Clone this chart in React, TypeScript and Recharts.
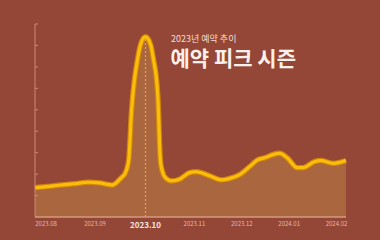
import React from 'react';
import { ComposedChart, Area, Line, XAxis, YAxis, ReferenceLine } from 'recharts';

// x = days since 2023-07-25, value = booking index
const days = [0, 7.6, 15, 25, 34, 41, 46, 49, 52.2, 54.7, 57.2, 58.6, 59.5, 60.2, 60.8, 61.7, 63, 64.9, 66.8, 70, 73.3, 75.1, 77, 77.9, 78.4, 78.9, 79.5, 80.8, 82.7, 86.5, 91.6, 98, 102, 111, 118, 123, 130, 136, 141, 146, 152, 155, 160, 166, 170, 177, 181, 189, 197];
const values = [13.7, 14.2, 14.8, 15.5, 16.2, 15.9, 15.2, 14.9, 16.4, 18.3, 20.5, 23.5, 27.5, 35.9, 45.2, 54.6, 63.9, 73.2, 80.2, 84, 80.2, 73.2, 63.9, 54.6, 45.2, 33.6, 25.7, 21, 18.2, 16.8, 17.6, 20.7, 21.1, 19.1, 17.3, 17.9, 19.9, 23.5, 26.6, 27.7, 29.4, 29.7, 27.4, 23, 23, 25.8, 26.3, 25, 26.3];
const tickDays = [7, 38, 70, 101, 131, 161, 191];
const tickLabels = ['2023.08', '2023.09', '2023.10', '2023.11', '2023.12', '2024.01', '2024.02'];
const peakDay = 70;
const peakValue = 84;
const yTicks = [0, 10, 20, 30, 40, 50, 60, 70, 80, 90];
const subtitle = '2023년 예약 추이';
const title = '예약 피크 시즌';

const data = days.map((d, i) => ({ day: d, v: values[i] }));

const FONT = '"Noto Sans CJK KR", "Noto Sans", sans-serif';

const XTick = (props: any) => {
  const { x, payload } = props;
  const idx = tickDays.indexOf(payload.value);
  const label = tickLabels[idx] ?? '';
  const bold = payload.value === peakDay;
  return (
    <text
      x={x}
      y={bold ? 227.7 : 225.7}
      textAnchor="middle"
      fontFamily={FONT}
      fontSize={bold ? 8 : 6}
      fontWeight={bold ? 700 : 400}
      fill={bold ? '#f6e7e0' : '#e3b9a8'}
    >
      {label}
    </text>
  );
};

export default function App() {
  return (
    <div style={{ position: 'absolute', left: 0, top: 0, width: 380, height: 240, background: '#944737', overflow: 'hidden' }}>
      <ComposedChart width={380} height={240} data={data} margin={{ top: 24, right: 34, bottom: 0, left: 35 }}>
        <XAxis
          dataKey="day"
          type="number"
          domain={[0, 197]}
          ticks={tickDays}
          interval={0}
          height={23}
          tickLine={false}
          tickSize={0}
          tick={<XTick />}
          axisLine={{ stroke: '#d39a80', strokeWidth: 1.5 }}
        />
        <YAxis
          type="number"
          domain={[0, 90]}
          ticks={yTicks}
          interval={0}
          width={1}
          mirror
          tickFormatter={() => ''}
          tickSize={3}
          tickLine={{ stroke: '#c98a76', strokeWidth: 1 }}
          axisLine={{ stroke: '#c98a76', strokeWidth: 1 }}
        />
        <Area
          type="monotone"
          dataKey="v"
          stroke="#d0860a"
          strokeWidth={5.5}
          fill="#aa663f"
          fillOpacity={1}
          isAnimationActive={false}
          dot={false}
          activeDot={false}
        />
        <ReferenceLine
          segment={[{ x: peakDay, y: 0 }, { x: peakDay, y: peakValue }]}
          stroke="#e6a444"
          strokeWidth={1.2}
          strokeDasharray="2 2"
        />
        <Line
          type="monotone"
          dataKey="v"
          stroke="#fbbd0b"
          strokeWidth={3.2}
          dot={false}
          activeDot={false}
          isAnimationActive={false}
        />
      </ComposedChart>
      <svg width={380} height={240} style={{ position: 'absolute', left: 0, top: 0, pointerEvents: 'none' }}>
        <text x={171} y={41.5} fontFamily={FONT} fontSize={9} fill="#f3ddd4">{subtitle}</text>
        <text x={170.5} y={65.5} fontFamily={FONT} fontSize={21} fontWeight={700} fill="#fbf1ec">{title}</text>
      </svg>
    </div>
  );
}
